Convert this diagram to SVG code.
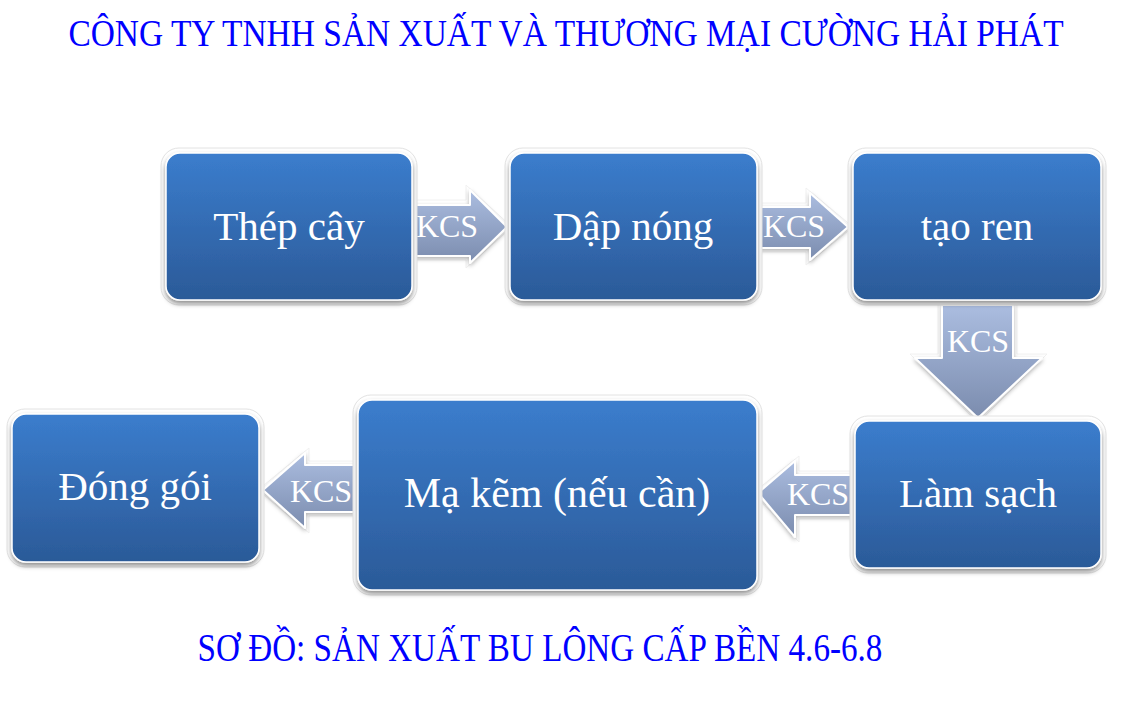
<svg xmlns="http://www.w3.org/2000/svg" width="1128" height="721" viewBox="0 0 1128 721">
<style>
.t{font-family:"Liberation Serif","Times New Roman",serif;fill:#ffffff;text-anchor:middle}
.box{font-size:41px}
.kcs{font-size:32px}
.hd{font-family:"Liberation Serif","Times New Roman",serif;fill:#0000ff;text-anchor:middle}
.halo{fill:#ffffff;stroke:#e2e2e2;stroke-width:1}
.node{fill:url(#gBox);stroke:#ffffff;stroke-width:1.5;filter:url(#sh)}
.arr{fill:url(#gArr);stroke:#ffffff;stroke-width:2;stroke-linejoin:round;filter:url(#sh2)}
</style>
<defs>
<linearGradient id="gBox" x1="0" y1="0" x2="0" y2="1">
<stop offset="0" stop-color="#3b7dcd"/>
<stop offset="1" stop-color="#2b5a98"/>
</linearGradient>
<linearGradient id="gArr" x1="0" y1="0" x2="0" y2="1">
<stop offset="0" stop-color="#abbde0"/>
<stop offset="1" stop-color="#7b8cae"/>
</linearGradient>
<filter id="sh" x="-10%" y="-10%" width="120%" height="130%">
<feDropShadow dx="0" dy="3" stdDeviation="2.5" flood-color="#000000" flood-opacity="0.45"/>
</filter>
<filter id="sh2" x="-20%" y="-20%" width="140%" height="150%">
<feDropShadow dx="0" dy="2" stdDeviation="2" flood-color="#000000" flood-opacity="0.3"/>
</filter>
</defs>
<rect width="1128" height="721" fill="#ffffff"/>
<text class="hd" transform="matrix(0.8,0,0,1,566,46)" x="0" y="0" font-size="38" textLength="1244" lengthAdjust="spacingAndGlyphs">CÔNG TY TNHH SẢN XUẤT VÀ THƯƠNG MẠI CƯỜNG HẢI PHÁT</text>
<g id="connectors">
<polygon class="halo" points="409,200 466,200 466,185 512,227 466,268 466,260 409,260" opacity="0.5"/>
<polygon class="arr" points="413,205 470,205 470,190 507,227 470,263 470,256 413,256"/>
<text class="t kcs" x="447" y="237">KCS</text>
<polygon class="halo" points="754,203 806,203 806,188 853,227 806,265 806,252 754,252" opacity="0.5"/>
<polygon class="arr" points="758,207 810,207 810,193 848,227 810,260 810,248 758,248"/>
<text class="t kcs" x="794" y="237">KCS</text>
<polygon class="halo" points="938,301 1017,301 1017,354 1047,354 978,423 910,354 938,354" opacity="0.5"/>
<polygon class="arr" points="942,305 1013,305 1013,358 1042,358 978,418 915,358 942,358"/>
<text class="t kcs" x="978" y="352">KCS</text>
<polygon class="halo" points="859,471 799,471 799,456 753,493 799,542 799,519 859,519" opacity="0.5"/>
<polygon class="arr" points="855,475 795,475 795,461 758,493 795,537 795,515 855,515"/>
<text class="t kcs" x="818" y="505">KCS</text>
<polygon class="halo" points="361,461 309,461 309,448 258,490 309,533 309,516 361,516" opacity="0.5"/>
<polygon class="arr" points="357,465 305,465 305,453 263,490 305,528 305,512 357,512"/>
<text class="t kcs" x="321" y="502">KCS</text>
</g>
<g id="n1">
<rect class="halo" x="161" y="148" width="256" height="157" rx="18"/>
<rect class="node" x="166" y="153" width="246" height="147" rx="14"/>
<text class="t box" x="289" y="240">Thép cây</text>
</g>
<g id="n2">
<rect class="halo" x="505" y="148" width="257" height="157" rx="18"/>
<rect class="node" x="510" y="153" width="247" height="147" rx="14"/>
<text class="t box" x="633" y="240">Dập nóng</text>
</g>
<g id="n3">
<rect class="halo" x="848" y="148" width="258" height="157" rx="18"/>
<rect class="node" x="853" y="153" width="248" height="147" rx="14"/>
<text class="t box" x="977" y="240">tạo ren</text>
</g>
<g id="n4">
<rect class="halo" x="850" y="416" width="256" height="157" rx="18"/>
<rect class="node" x="855" y="421" width="246" height="147" rx="14"/>
<text class="t box" x="978" y="507">Làm sạch</text>
</g>
<g id="n5">
<rect class="halo" x="353" y="395" width="409" height="200" rx="18"/>
<rect class="node" x="358" y="400" width="399" height="190" rx="14"/>
<text class="t" x="557" y="507" font-size="42">Mạ kẽm (nếu cần)</text>
</g>
<g id="n6">
<rect class="halo" x="7" y="409" width="257" height="158" rx="18"/>
<rect class="node" x="12" y="414" width="247" height="148" rx="14"/>
<text class="t box" x="135" y="500">Đóng gói</text>
</g>
<text class="hd" transform="matrix(0.8,0,0,1,540,661)" x="0" y="0" font-size="39" textLength="856" lengthAdjust="spacingAndGlyphs">SƠ ĐỒ: SẢN XUẤT BU LÔNG CẤP BỀN 4.6-6.8</text>
</svg>
